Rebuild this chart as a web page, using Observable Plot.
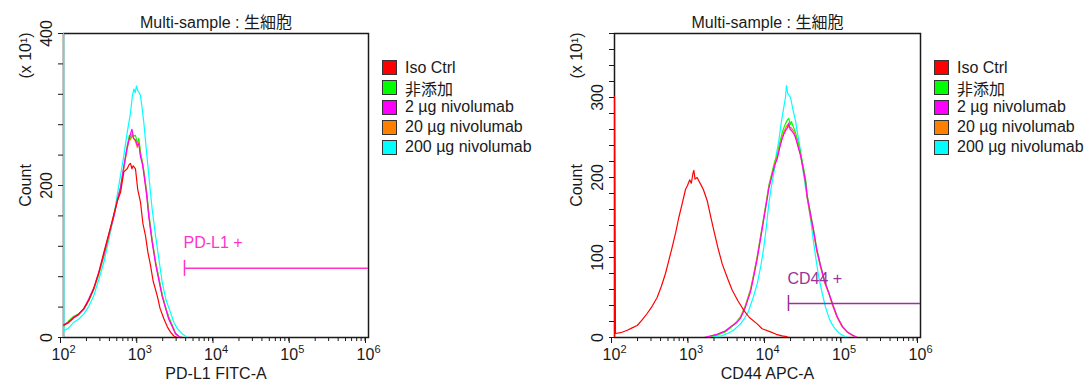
<!DOCTYPE html>
<html><head><meta charset="utf-8">
<script src="https://cdn.jsdelivr.net/npm/d3@7"></script>
<script src="https://cdn.jsdelivr.net/npm/@observablehq/plot@0.6"></script>
<style>
body{margin:0;background:#fff;font-family:"Liberation Sans",Arial,"Noto Sans CJK JP",sans-serif;}
#wrap{position:relative;width:1087px;height:387px;overflow:hidden;background:#fff}
.panel{position:absolute;top:0}
.legend{position:absolute;font-size:16px;color:#1a1a1a;font-family:"Liberation Sans",Arial,"Noto Sans CJK JP",sans-serif}
.legend .row{display:flex;align-items:center;height:19.8px;white-space:nowrap}
.legend .sw{width:13px;height:13px;border:1px solid #333;margin-right:8px;box-sizing:content-box}
</style></head><body><div id="wrap"></div>
<script>
// ---------- categories / styles ----------
const seriesNames = ["Iso Ctrl", "非添加", "2 µg nivolumab", "20 µg nivolumab", "200 µg nivolumab"];
const seriesColors = ["#ff0000", "#00ff00", "#ff00ff", "#ff8000", "#00ffff"];
const drawOrder = ["200 µg nivolumab", "非添加", "20 µg nivolumab", "2 µg nivolumab", "Iso Ctrl"];
const panelTitle = "Multi-sample : 生細胞";
const yUnitLabel = "(x 10¹)";
const yAxisLabel = "Count";

// ---------- axis ticks ----------
const xMajorTicks = [1e2, 1e3, 1e4, 1e5, 1e6];
const xMajorBase = "10";
const xMajorExponents = ["2", "3", "4", "5", "6"];
const xMinorMultipliers = [2, 3, 4, 5, 6, 7, 8, 9];
const leftYTicks = [0, 40, 80, 120, 160, 200, 240, 280, 320, 360, 400];
const leftYLabels = [0, 200, 400];
const rightYTicks = [0, 20, 40, 60, 80, 100, 120, 140, 160, 180, 200, 220, 240, 260, 280, 300, 320, 340, 360, 380];
const rightYLabels = [0, 100, 200, 300];

// ---------- PD-L1 FITC-A histograms [intensity, count(x10)] ----------
const pdl1_iso = [[101,16],[115,19],[136,26],[158,31],[185,38],[215,49],[249,64],[290,85],[338,112],[392,136],[457,162],[510,180],[560,191],[618,218],[684,222],[730,228],[757,229],[790,222],[820,226],[879,222],[940,195],[1023,178],[1100,150],[1189,134],[1280,112],[1384,95],[1500,74],[1694,55],[1850,38],[2065,25],[2300,14],[2529,7],[2800,2],[3097,0]];
const pdl1_none = [[101,15],[115,21],[136,28],[158,31],[185,37],[215,49],[249,63],[290,83],[338,107],[392,133],[457,161],[510,182],[560,198],[618,224],[684,252],[730,266],[757,262],[796,268],[830,265],[879,266],[930,256],[973,262],[1023,244],[1080,232],[1130,220],[1230,193],[1315,164],[1450,130],[1611,100],[1800,76],[1968,57],[2200,39],[2404,27],[2700,15],[2944,6],[3300,1],[3700,0]];
const pdl1_2ug = [[101,17],[115,20],[136,26],[158,30],[185,38],[215,51],[249,65],[290,86],[338,109],[392,135],[457,159],[510,181],[560,197],[618,225],[684,250],[730,262],[757,268],[790,274],[830,262],[879,260],[930,253],[973,255],[1023,238],[1080,229],[1130,216],[1230,188],[1315,159],[1450,126],[1611,97],[1800,73],[1968,54],[2200,37],[2404,24],[2700,13],[2944,5],[3300,1],[3600,0]];
const pdl1_20ug = [[101,16],[115,20],[136,27],[158,30],[185,38],[215,50],[249,64],[290,84],[338,108],[392,133],[457,160],[510,180],[560,196],[618,222],[684,248],[730,262],[757,260],[796,266],[830,262],[879,258],[930,250],[973,257],[1023,240],[1080,230],[1130,218],[1230,190],[1315,160],[1450,128],[1611,99],[1800,75],[1968,55],[2200,38],[2404,25],[2700,14],[2944,5],[3300,1],[3600,0]];
const pdl1_200ug = [[100,0],[100,420],[101,9],[115,12],[136,20],[158,24],[185,31],[215,41],[249,55],[290,76],[338,99],[392,128],[457,160],[525,197],[618,239],[680,268],[757,296],[800,318],[840,327],[870,322],[906,331],[940,325],[973,323],[1023,318],[1080,300],[1130,283],[1200,255],[1315,213],[1450,170],[1611,134],[1800,100],[1968,73],[2200,50],[2529,33],[2800,20],[3097,12],[3600,5],[4188,0]];

// ---------- CD44 APC-A histograms [intensity, count(x10)] ----------
const cd44_iso = [[100,0],[100,301],[103,5],[120,6],[147,9],[170,12],[198,15],[230,22],[267,30],[310,39],[361,50],[410,64],[464,80],[515,97],[568,113],[630,131],[693,150],[770,168],[847,185],[900,190],[960,197],[1010,193],[1060,205],[1089,209],[1130,198],[1200,200],[1330,192],[1450,185],[1629,171],[1800,152],[1987,134],[2250,112],[2559,92],[3000,74],[3459,59],[4100,46],[4898,34],[5800,25],[7328,17],[8500,11],[10940,7],[13000,4],[15500,2],[17800,1],[19000,0]];
const cd44_none = [[1500,0],[2198,3],[2800,7],[3281,12],[3900,19],[4436,26],[5100,39],[5998,60],[6600,79],[7328,101],[8100,126],[8954,151],[9700,171],[10400,190],[11500,207],[12500,221],[13390,228],[14500,244],[15500,255],[16340,262],[17300,268],[18200,272],[18970,274],[19800,266],[20500,270],[22000,262],[23230,256],[25000,245],[26990,232],[29000,216],[31390,199],[33030,178],[36500,155],[40290,133],[44000,111],[49300,90],[56000,70],[63240,56],[72000,40],[81450,26],[95000,14],[110100,7],[128000,3],[150000,0]];
const cd44_2ug = [[1500,0],[2198,4],[2800,8],[3281,13],[3900,18],[4436,24],[5100,37],[5998,57],[6600,76],[7328,98],[8100,123],[8954,148],[9700,168],[10400,186],[11500,203],[12500,216],[13390,223],[14500,238],[15500,248],[16340,254],[17300,259],[18200,262],[18970,268],[19800,260],[20500,259],[22000,255],[23230,250],[25000,239],[26990,228],[29000,213],[31390,195],[33030,176],[36500,154],[40290,132],[44000,110],[49300,90],[56000,70],[63240,56],[72000,40],[81450,26],[95000,14],[110100,7],[128000,3],[150000,0]];
const cd44_20ug = [[1500,0],[2198,4],[2800,8],[3281,13],[3900,19],[4436,25],[5100,38],[5998,59],[6600,78],[7328,100],[8100,125],[8954,150],[9700,170],[10400,188],[11500,205],[12500,218],[13390,225],[14500,240],[15500,250],[16340,257],[17300,262],[18200,266],[18970,263],[20500,262],[22000,258],[23230,252],[25000,240],[26990,228],[29000,212],[31390,193],[33030,174],[36500,150],[40290,130],[44000,108],[49300,88],[56000,68],[63240,55],[72000,38],[81450,25],[95000,13],[110100,7],[128000,3],[148900,0]];
const cd44_200ug = [[1500,0],[2500,2],[3000,5],[3600,9],[4436,17],[5000,24],[5600,32],[6500,50],[7328,67],[8200,90],[8954,113],[9700,140],[10400,167],[11200,188],[12080,205],[13000,228],[14060,246],[15200,270],[16340,288],[17180,300],[17700,315],[18400,305],[19990,300],[21500,285],[23230,271],[25000,252],[26990,234],[29000,210],[31390,188],[34670,163],[37500,140],[40290,117],[43500,95],[46870,75],[52000,55],[57300,38],[65000,22],[73620,13],[85000,6],[99310,2],[110000,0]];

// ---------- gates ----------
const pdl1Gate = {label: "PD-L1 +", x: 3860, y: 91, x2: 1e6};
const cd44Gate = {label: "CD44 +", x: 18800, y: 42.5, x2: 1e6};

// ---------- build tables ----------
function table(map) {
  const rows = [];
  for (const name of drawOrder) for (const [x, y] of map[name]) rows.push({series: name, x, y});
  return rows;
}
const pdl1Rows = table({
  "Iso Ctrl": pdl1_iso, "非添加": pdl1_none, "2 µg nivolumab": pdl1_2ug,
  "20 µg nivolumab": pdl1_20ug, "200 µg nivolumab": pdl1_200ug
});
const cd44Rows = table({
  "Iso Ctrl": cd44_iso, "非添加": cd44_none, "2 µg nivolumab": cd44_2ug,
  "20 µg nivolumab": cd44_20ug, "200 µg nivolumab": cd44_200ug
});
const xMinorTicks = [];
for (const d of [1e2, 1e3, 1e4, 1e5]) for (const m of xMinorMultipliers) xMinorTicks.push(d * m);

const FONT = '"Liberation Sans", Arial, "Noto Sans CJK JP", sans-serif';
const FS = 16;

function panel({rows, yDomain, yTicks, yLabels, xLabel, gate, gateColor, innerWidth}) {
  return Plot.plot({
    width: 63 + innerWidth + 12, height: 387,
    marginLeft: 63, marginRight: 12, marginTop: 33, marginBottom: 50,
    x: {type: "log", domain: [1e2, 1e6], label: null},
    y: {domain: yDomain, label: null},
    color: {domain: seriesNames, range: seriesColors},
    style: {fontFamily: FONT, fontSize: FS + "px", color: "#1a1a1a", background: "transparent", overflow: "visible"},
    marks: [
      Plot.frame({stroke: "#1a1a1a", strokeWidth: 1.5}),
      Plot.axisY({ticks: yTicks, tickSize: 5, tickFormat: () => "", label: null}),
      Plot.axisX({ticks: xMinorTicks, tickSize: 4, tickFormat: () => "", label: null}),
      Plot.axisX({ticks: xMajorTicks, tickSize: 6, tickPadding: 5, fontSize: FS, label: null,
        tickFormat: () => xMajorBase, dx: -3}),
      Plot.text(xMajorTicks, {x: (d) => d, text: (d, i) => xMajorExponents[i], frameAnchor: "bottom",
        textAnchor: "start", dx: 6, dy: 15, fontSize: 11}),
      Plot.text(yLabels, {y: (d) => d, text: (d) => String(d), frameAnchor: "left", rotate: -90,
        textAnchor: "middle", lineAnchor: "bottom", dx: -12, fontSize: FS}),
      Plot.text([yAxisLabel], {frameAnchor: "left", rotate: -90, textAnchor: "middle", lineAnchor: "bottom", dx: -33, fontSize: FS}),
      Plot.text([yUnitLabel], {frameAnchor: "top-left", rotate: -90, textAnchor: "middle", lineAnchor: "bottom", dx: -33, dy: 22, fontSize: FS}),
      Plot.text([panelTitle], {frameAnchor: "top", dy: -17, fontSize: FS}),
      Plot.text([xLabel], {frameAnchor: "bottom", dy: 41, fontSize: FS}),
      Plot.line(rows, {x: "x", y: "y", z: "series", stroke: "series", strokeWidth: 1.2, clip: true}),
      Plot.ruleY([gate], {y: "y", x1: "x", x2: "x2", stroke: gateColor, strokeWidth: 1.5}),
      Plot.ruleX([gate], {x: "x", y1: "y", y2: "y", insetTop: -8, insetBottom: -8, stroke: gateColor, strokeWidth: 1.5}),
      Plot.text([gate], {x: "x", y: "y", text: "label", textAnchor: "start", dx: -1, dy: -25, fill: gateColor, fontSize: FS})
    ]
  });
}

function legend(left) {
  const div = document.createElement("div");
  div.className = "legend";
  div.style.left = left + "px";
  div.style.top = "58px";
  seriesNames.forEach((n, i) => {
    const row = document.createElement("div");
    row.className = "row";
    const sw = document.createElement("div");
    sw.className = "sw";
    sw.style.background = seriesColors[i];
    const t = document.createElement("span");
    t.textContent = n;
    row.appendChild(sw); row.appendChild(t);
    div.appendChild(row);
  });
  return div;
}

const wrap = document.getElementById("wrap");
const p1 = panel({rows: pdl1Rows, yDomain: [0, 400], yTicks: leftYTicks, yLabels: leftYLabels,
  xLabel: "PD-L1 FITC-A", gate: pdl1Gate, gateColor: "#ff33cc", innerWidth: 305});
p1.classList.add("panel"); p1.style.left = "0px";
const p2 = panel({rows: cd44Rows, yDomain: [0, 380], yTicks: rightYTicks, yLabels: rightYLabels,
  xLabel: "CD44 APC-A", gate: cd44Gate, gateColor: "#993399", innerWidth: 306});
p2.classList.add("panel"); p2.style.left = "551px";
wrap.appendChild(p1);
wrap.appendChild(p2);
wrap.appendChild(legend(382));
wrap.appendChild(legend(934));
</script>
</body></html>
